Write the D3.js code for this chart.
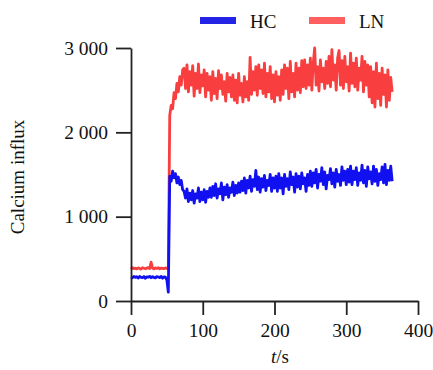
<!DOCTYPE html>
<html>
<head>
<meta charset="utf-8">
<script src="https://cdn.jsdelivr.net/npm/d3@7"></script>
<style>
  body { margin: 0; background: #fff; }
  svg { font-family: "Liberation Serif", "Times New Roman", serif; }
</style>
</head>
<body>
<svg id="chart" width="433" height="370"></svg>
<script>
// sampling: one reading every 2 s starting at t = 0
const t0 = 0;
const dt = 2;

const seriesNames = ["HC", "LN"];

// HC readings (t = 0 ... 364 s)
const hcValues = [
  285, 275, 290, 280, 288, 272, 292, 280, 278, 290, 270, 286, 282, 292, 276, 288, 280, 274, 290, 284, 278, 292, 270, 286, 282, 250,
  105,
  1480, 1420, 1540, 1460, 1510, 1400, 1470, 1380, 1430, 1320,
  1300, 1220, 1330, 1180, 1280, 1200, 1310, 1160, 1270, 1220, 1340, 1180, 1290, 1200, 1320, 1170, 1300, 1230, 1340,
  1230, 1360, 1250, 1390, 1220, 1330, 1270, 1400, 1200, 1350, 1260, 1380, 1230, 1340, 1290, 1410, 1250, 1370, 1280, 1400,
  1290, 1420, 1310, 1460, 1280, 1430, 1340, 1480, 1300, 1440, 1360, 1550, 1320, 1470, 1290, 1450, 1350, 1490, 1310, 1430, 1370, 1500, 1300, 1460, 1340,
  1480, 1300, 1510, 1340, 1460, 1270, 1500, 1360, 1450, 1320, 1530, 1380, 1470, 1290, 1510, 1350, 1480, 1330, 1520, 1390, 1460, 1300, 1500, 1370, 1540,
  1360, 1520, 1400, 1560, 1340, 1500, 1420, 1580, 1380, 1530, 1330, 1490, 1440, 1570, 1390, 1520, 1350, 1560, 1420, 1500, 1370, 1590, 1430, 1540, 1380,
  1560, 1410, 1600, 1380, 1540, 1440, 1580, 1370, 1520, 1430, 1610, 1400, 1550, 1360, 1590, 1450, 1530, 1390, 1600, 1420, 1560, 1370, 1510, 1440, 1590, 1400, 1620, 1380, 1550, 1430, 1600, 1420
];

// LN readings (t = 0 ... 364 s)
const lnValues = [
  380, 395, 385, 390, 380, 392, 386, 378, 395, 388, 382, 390, 396, 385, 460, 390, 380, 392, 386, 395, 382, 390, 388, 384, 392, 386,
  380, 2200, 2320, 2280, 2470, 2400, 2580, 2480, 2660, 2560, 2740,
  2760, 2520, 2800, 2480, 2720, 2560, 2790, 2430, 2700, 2520, 2810, 2470, 2680, 2550,
  2740, 2420, 2700, 2500, 2660, 2380, 2720, 2460, 2640, 2400, 2730, 2520, 2680, 2450, 2600, 2370, 2700, 2480, 2650, 2420,
  2680, 2380, 2620, 2350, 2700, 2440, 2580, 2360, 2660, 2420, 2600, 2380, 2890, 2450, 2720,
  2500, 2780, 2440, 2800, 2520, 2740, 2460, 2820, 2420, 2700, 2480, 2780, 2400, 2680, 2360, 2720, 2440, 2660, 2380, 2740,
  2450, 2800, 2520, 2760, 2400, 2840, 2480, 2700, 2420, 2820, 2500, 2760, 2470, 2850, 2540,
  2860, 2520, 2800, 2560, 2880, 2500, 2820, 3000, 2560, 2780, 2490, 2860, 2600, 2760, 2520, 2840, 2580, 2900, 2540, 2980, 2620, 2800, 2500, 2880, 2970,
  2560, 2850, 2520, 2900, 2600, 2780, 2490, 2940, 2580, 2820, 2540, 2880, 2500, 2760, 2620, 2900, 2480, 2840, 2560, 2800,
  2420, 2780, 2350, 2720, 2300, 2820, 2400, 2700, 2320, 2760, 2450, 2680, 2300, 2740, 2380, 2650, 2480
];

const xTicks = [0, 100, 200, 300, 400];
const yTicks = [0, 1000, 2000, 3000];
const yTickLabels = ["0", "1 000", "2 000", "3 000"];

const svg = d3.select("#chart");

const x = d3.scaleLinear().domain([0, 400]).range([131, 418]);
const y = d3.scaleLinear().domain([0, 3000]).range([301, 48]);

const colors = { HC: "#1010f0", LN: "#f83e3e" };
const legendColors = { HC: "#2424e6", LN: "#ff5f5f" };

// lines (LN underneath, HC on top)
const line = d3.line()
  .x((d, i) => x(t0 + i * dt))
  .y(d => y(d));

svg.append("path")
  .datum(lnValues)
  .attr("fill", "none")
  .attr("stroke", colors.LN)
  .attr("stroke-width", 2.8)
  .attr("stroke-linejoin", "round")
  .attr("d", line);

svg.append("path")
  .datum(hcValues)
  .attr("fill", "none")
  .attr("stroke", colors.HC)
  .attr("stroke-width", 2.8)
  .attr("stroke-linejoin", "round")
  .attr("d", line);

// axes
const xAxis = svg.append("g")
  .attr("transform", "translate(0," + y(0) + ")")
  .call(d3.axisBottom(x).tickValues(xTicks).tickSize(14).tickSizeOuter(0).tickPadding(8));

const yAxis = svg.append("g")
  .attr("transform", "translate(" + x(0) + ",0)")
  .call(d3.axisLeft(y).tickValues(yTicks).tickFormat((d, i) => yTickLabels[i])
    .tickSize(15).tickSizeOuter(0).tickPadding(8));

[xAxis, yAxis].forEach(g => {
  g.select(".domain").attr("stroke", "#222").attr("stroke-width", 1.8);
  g.selectAll(".tick line").attr("stroke", "#222").attr("stroke-width", 1.8);
  g.selectAll(".tick text")
    .attr("fill", "#111")
    .style("font-family", "'Liberation Serif', serif")
    .style("font-size", "19.5px");
});

// axis titles
const xTitle = svg.append("text")
  .attr("x", 280)
  .attr("y", 363)
  .attr("text-anchor", "middle")
  .attr("fill", "#111")
  .style("font-size", "19px");
xTitle.append("tspan").style("font-style", "italic").text("t");
xTitle.append("tspan").text("/s");

svg.append("text")
  .attr("transform", "translate(24,177) rotate(-90)")
  .attr("text-anchor", "middle")
  .attr("fill", "#111")
  .style("font-size", "19px")
  .text("Calcium influx");

// legend
const legendX = [200, 309];
seriesNames.forEach((name, i) => {
  svg.append("rect")
    .attr("x", legendX[i])
    .attr("y", 17)
    .attr("width", 36)
    .attr("height", 7)
    .attr("fill", legendColors[name]);
  svg.append("text")
    .attr("x", legendX[i] + 50)
    .attr("y", 28)
    .attr("fill", "#111")
    .style("font-size", "19px")
    .text(name);
});
</script>
</body>
</html>
